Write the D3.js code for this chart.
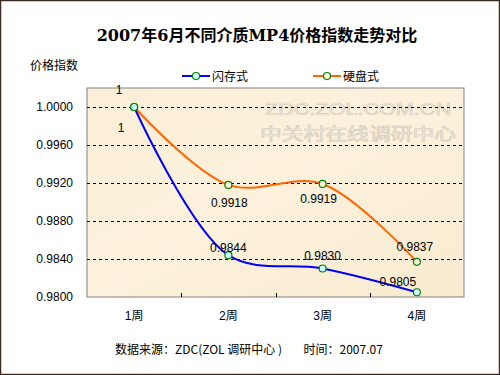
<!DOCTYPE html>
<html><head><meta charset="utf-8">
<script src="https://cdn.jsdelivr.net/npm/d3@7"></script>
<style>
html,body{margin:0;padding:0;background:#fff;}
svg{display:block;}
text{font-family:Arial,"Liberation Sans","Noto Sans CJK SC",sans-serif;}
</style></head>
<body>
<script>
const categories = ["1周","2周","3周","4周"];
const flashValues = [1, 0.9844, 0.9830, 0.9805];   // 闪存式
const hddValues   = [1, 0.9918, 0.9919, 0.9837];   // 硬盘式
const yTicks = [0.98, 0.984, 0.988, 0.992, 0.996, 1.0];
const seriesNames = ["闪存式","硬盘式"];

// label offsets (layout)
const flashLabelOff = [[-15,-17],[0,-7],[0,-13],[-19,-10]];
const hddLabelOff   = [[-13,21],[1,18],[-4,15],[-2,-15]];

const W=500,H=375;
const m={l:87,r:36,t:88,b:78};
const svg=d3.select("body").append("svg").attr("width",W).attr("height",H);

svg.append("rect").attr("x",0.5).attr("y",0.5).attr("width",W-1).attr("height",H-1)
  .attr("fill","#fff").attr("stroke","#3b2a22").attr("stroke-width",1.5);

const x=d3.scaleBand().domain(categories).range([m.l,W-m.r]).padding(0);
const y=d3.scaleLinear().domain([0.98,1.002]).range([H-m.b,m.t]);

// plot background
const defs=svg.append("defs");
const g=defs.append("linearGradient").attr("id","bg").attr("x1","0").attr("y1","0").attr("x2","1").attr("y2","1");
g.append("stop").attr("offset","0").attr("stop-color","#fbefd8");
g.append("stop").attr("offset","0.5").attr("stop-color","#fcf1dc");
g.append("stop").attr("offset","1").attr("stop-color","#f9ebd0");
svg.append("rect").attr("x",m.l).attr("y",m.t).attr("width",W-m.r-m.l).attr("height",H-m.b-m.t)
  .attr("fill","url(#bg)").attr("stroke","#808080").attr("stroke-width",1);

// watermark
const wm=svg.append("g").attr("fill","#f6eedd").attr("stroke","#d6cdbd").attr("stroke-width",0.7);
wm.append("text").attr("x",358).attr("y",115).attr("text-anchor","middle")
  .attr("font-size",17).style("font-family","Arial, 'Liberation Sans', sans-serif")
  .attr("textLength",186).attr("lengthAdjust","spacingAndGlyphs")
  .text("ZDC.ZOL.COM.CN");
wm.append("text").attr("x",358).attr("y",140).attr("text-anchor","middle")
  .attr("font-size",17).style("font-family","'Noto Sans CJK SC', sans-serif")
  .attr("textLength",196).attr("lengthAdjust","spacingAndGlyphs")
  .text("中关村在线调研中心");

// gridlines
svg.append("g").selectAll("line").data(yTicks.filter(t=>t>0.98)).join("line")
  .attr("x1",m.l).attr("x2",W-m.r).attr("y1",d=>Math.round(y(d))+0.5).attr("y2",d=>Math.round(y(d))+0.5)
  .attr("stroke","#000").attr("stroke-dasharray","3,3").attr("stroke-width",1);

// y axis labels
svg.append("g").selectAll("text").data(yTicks).join("text")
  .attr("x",73).attr("y",d=>y(d)+4).attr("text-anchor","end").attr("font-size",12).attr("fill","#000")
  .text(d=>d3.format(".4f")(d));

// x axis ticks (band boundaries, inward)
const bounds=categories.slice(1).map(c=>x(c));
svg.append("g").selectAll("line").data(bounds).join("line")
  .attr("x1",d=>Math.round(d)+0.5).attr("x2",d=>Math.round(d)+0.5)
  .attr("y1",H-m.b).attr("y2",H-m.b-4).attr("stroke","#000");
svg.append("g").selectAll("text").data(categories).join("text")
  .attr("x",d=>x(d)+x.bandwidth()/2).attr("y",320).attr("text-anchor","middle").attr("font-size",12)
  .text(d=>d);

const cx=c=>x(c)+x.bandwidth()/2;
const line=d3.line().x((d,i)=>cx(categories[i])).y(d=>y(d)).curve(d3.curveCatmullRom.alpha(0.5));

svg.append("path").datum(hddValues).attr("d",line).attr("fill","none").attr("stroke","#ff6600").attr("stroke-width",2);
svg.append("path").datum(flashValues).attr("d",line).attr("fill","none").attr("stroke","#0000ff").attr("stroke-width",2);

function markers(vals,fill){
  svg.append("g").selectAll("circle").data(vals).join("circle")
    .attr("cx",(d,i)=>cx(categories[i])).attr("cy",d=>y(d)).attr("r",3.5)
    .attr("fill",fill).attr("stroke","#008000").attr("stroke-width",1.2);
}
markers(hddValues,"#fdf3dc");
markers(flashValues,"#ccffff");

function labels(vals,off){
  svg.append("g").selectAll("text").data(vals).join("text")
    .attr("x",(d,i)=>cx(categories[i])+off[i][0]).attr("y",(d,i)=>y(d)+off[i][1]+4)
    .attr("text-anchor","middle").attr("font-size",12).attr("fill","#000")
    .text(d=>d===1?"1":d3.format(".4f")(d));
}
labels(flashValues,flashLabelOff);
labels(hddValues,hddLabelOff);

// title
svg.append("text").attr("x",257).attr("y",41).attr("text-anchor","middle").attr("font-size",16)
  .attr("font-weight","bold").style("font-family","'DejaVu Serif','Noto Sans CJK SC',serif")
  .text("2007年6月不同介质MP4价格指数走势对比");

// y title
svg.append("text").attr("x",30).attr("y",70).attr("font-size",12).style("font-family","'Noto Sans CJK SC',sans-serif").text("价格指数");

// legend
const leg=[{n:seriesNames[0],c:"#0000ff",f:"#ccffff",x:182},{n:seriesNames[1],c:"#ff6600",f:"#fdf3dc",x:313}];
const lg=svg.append("g").selectAll("g").data(leg).join("g");
lg.append("line").attr("x1",d=>d.x).attr("x2",d=>d.x+28).attr("y1",76).attr("y2",76).attr("stroke",d=>d.c).attr("stroke-width",2);
lg.append("circle").attr("cx",d=>d.x+14).attr("cy",76).attr("r",3.5).attr("fill",d=>d.f).attr("stroke","#008000").attr("stroke-width",1.2);
lg.append("text").attr("x",d=>d.x+30).attr("y",81).attr("font-size",12).style("font-family","'Noto Sans CJK SC',sans-serif").text(d=>d.n);

// footer
svg.append("text").attr("x",115).attr("y",354).attr("font-size",12).style("font-family","'Noto Sans CJK SC',sans-serif")
  .attr("xml:space","preserve").text("数据来源：ZDC(ZOL 调研中心 )        时间：2007.07");
</script>
</body></html>
